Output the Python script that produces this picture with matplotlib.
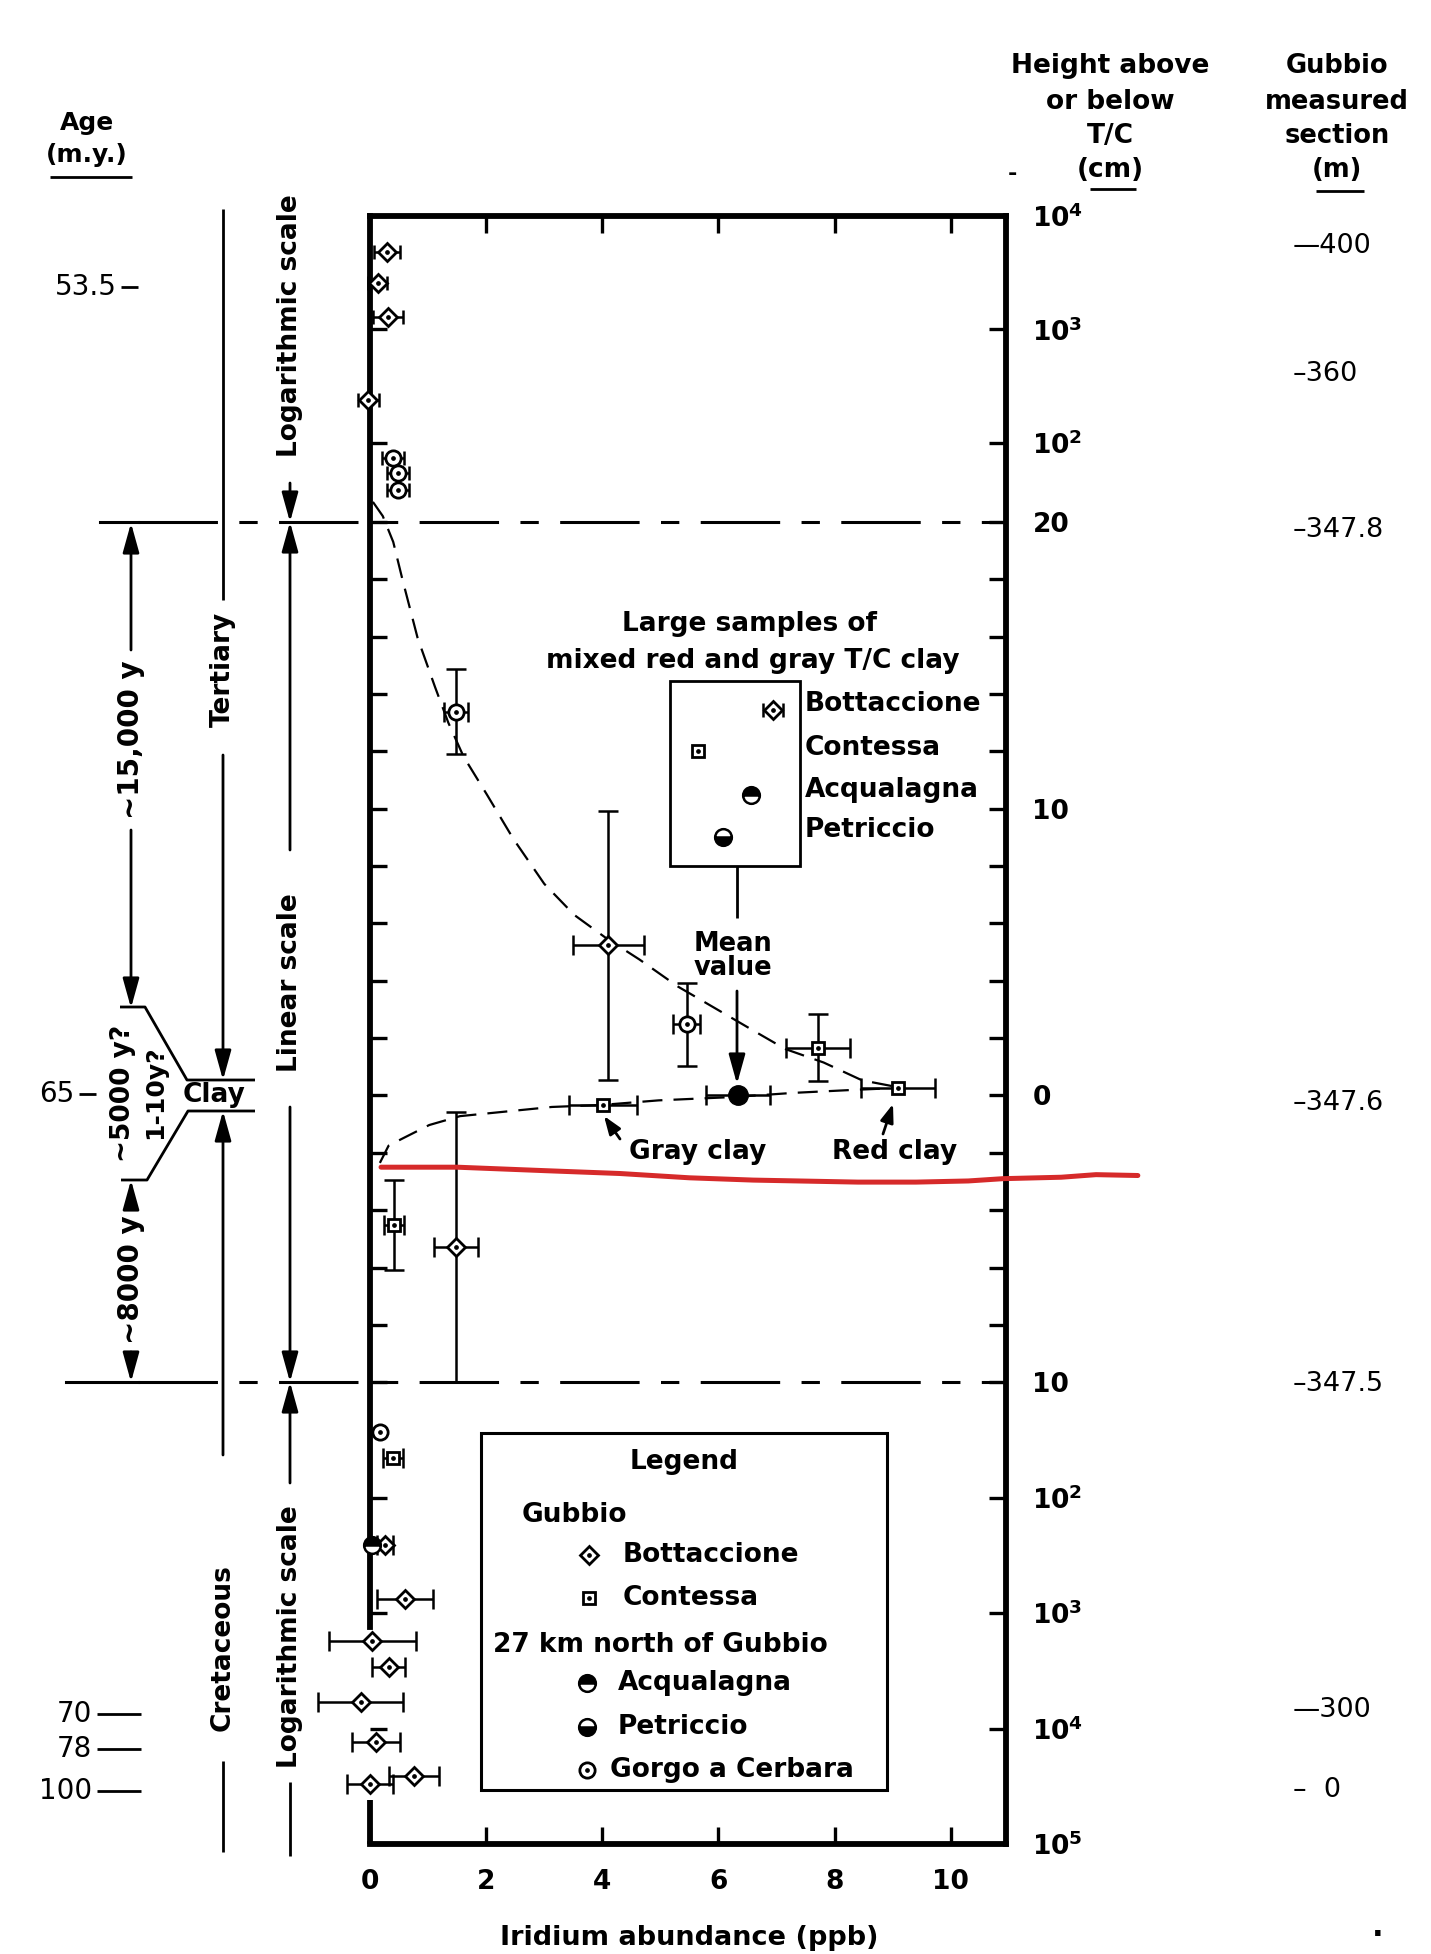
import numpy as np
import matplotlib
matplotlib.use("Agg")
import matplotlib.pyplot as plt
from matplotlib.patches import Rectangle
from matplotlib.ticker import FixedLocator, NullFormatter

plt.rcParams['font.family'] = ['DejaVu Sans']
plt.rcParams['mathtext.fontset'] = 'dejavusans'

# heights are cm above (+) or below (-) the T/C boundary, iridium in ppb
# Gubbio, Bottaccione (diamonds)
bott_ir = [0.29, 0.13, 0.31, -0.03, 4.10, 1.48, 0.26, 0.60, 0.04, 0.32, -0.16, 0.10, 0.75, 0.00]
bott_h = [4780, 2580, 1290, 240, 5.23, -5.30, -255, -757, -1740, -2950, -5860, -13200, -25600, -30400]
bott_xerr = [0.22, 0.17, 0.25, 0.18, 0.61, 0.38, 0.14, 0.48, 0.75, 0.28, 0.73, 0.41, 0.43, 0.40]
bott_yerr = [0, 0, 0, 0, 4.68, 4.73, 0, 0, 0, 0, 0, 0, 0, 0]

# Gubbio, Contessa (squares)
cont_ir = [7.71, 9.09, 4.01, 0.41, 0.39]
cont_h = [1.67, 0.26, -0.33, -4.52, -45]
cont_xerr = [0.55, 0.64, 0.59, 0.17, 0.17]
cont_yerr = [1.17, 0, 0, 1.56, 0]

# Gorgo a Cerbara (circles)
gorgo_ir = [0.40, 0.49, 0.49, 1.48, 5.45, 0.18]
gorgo_h = [73, 54, 38, 13.38, 2.48, -27]
gorgo_xerr = [0.19, 0.19, 0.19, 0.20, 0.24, 0]
gorgo_yerr = [0, 0, 0, 1.48, 1.45, 0]

# Acqualagna
acq_ir = [0.03]
acq_h = [-255]

# mean value of the large mixed clay samples
mean_ir = [6.34]
mean_h = [0.0]
mean_xerr = [0.55]

# dashed trend curves
upper_ir = [0.05, 0.22, 0.40, 0.56, 0.82, 1.12, 1.35, 1.61, 2.01, 2.47, 3.00, 3.52, 4.05,
            4.64, 5.30, 5.96, 6.62, 7.15, 7.81, 8.47, 9.06]
upper_h = [30, 22.5, 19.3, 17.98, 15.95, 14.24, 12.99, 11.82, 10.50, 8.94, 7.38, 6.29, 5.51,
           4.74, 3.80, 3.02, 2.24, 1.62, 1.15, 0.53, 0.30]
lower_ir = [0.17, 0.32, 0.56, 1.02, 1.55, 2.34, 3.13, 3.99, 4.97, 6.29, 7.28, 8.27, 9.06]
lower_h = [-2.35, -1.75, -1.50, -1.03, -0.72, -0.56, -0.40, -0.33, -0.17, -0.05, 0.09, 0.19, 0.26]

# red hand-drawn line
red_ir = [0.19, 1.5, 3.0, 4.3, 5.5, 6.6, 8.4, 9.4, 10.3, 10.9, 11.9, 12.5, 13.22]
red_h = [-2.50, -2.50, -2.62, -2.72, -2.87, -2.95, -3.02, -3.02, -2.98, -2.90, -2.85, -2.76, -2.79]

ytick_vals = [1e4, 1e3, 1e2, 20, 10, 0, -10, -1e2, -1e3, -1e4, -1e5]
ytick_labels = [r'$\mathbf{10^4}$', r'$\mathbf{10^3}$', r'$\mathbf{10^2}$', '20', '10', '0', '10',
                r'$\mathbf{10^2}$', r'$\mathbf{10^3}$', r'$\mathbf{10^4}$', r'$\mathbf{10^5}$']
ytick_minor = [18, 16, 14, 12, 8, 6, 4, 2, -2, -4, -6, -8]
xtick_vals = [0, 2, 4, 6, 8, 10]

# composite scale: log above +20 cm, linear -10..20 cm, log below -10 cm
T_LIN, B_LIN = 20.0, -10.0
C_TOP = 113.4 / 28.7
C_BOT = 115.5 / 28.7


def fwd(h):
    h = np.asarray(h, dtype=float)
    with np.errstate(all='ignore'):
        up = T_LIN + C_TOP * np.log10(np.maximum(h, T_LIN) / T_LIN)
        lo = B_LIN - C_BOT * np.log10(np.maximum(-h, -B_LIN) / -B_LIN)
    return np.where(h > T_LIN, up, np.where(h < B_LIN, lo, h))


def inv(u):
    u = np.asarray(u, dtype=float)
    with np.errstate(all='ignore'):
        up = T_LIN * 10 ** ((u - T_LIN) / C_TOP)
        lo = B_LIN * 10 ** ((B_LIN - u) / C_BOT)
    return np.where(u > T_LIN, up, np.where(u < B_LIN, lo, u))


W, H = 1431, 1954
fig = plt.figure(figsize=(W / 100, H / 100), dpi=100)
ax = fig.add_axes([370 / W, 1 - 1844 / H, 636 / W, 1628 / H])
ax.set_xlim(0, 10.95)
ax.set_yscale('function', functions=(fwd, inv))
ax.set_ylim(-1e5, 1e4)

for s in ax.spines.values():
    s.set_linewidth(4.2)
ax.spines['left'].set_bounds(-1330, 1e4)
ax.plot([0, 0], [-41400, -1e5], color='k', lw=4.2, solid_capstyle='butt', clip_on=False)

ax.set_xticks(xtick_vals)
ax.set_xticklabels([str(v) for v in xtick_vals], fontsize=19, fontweight='bold')
ax.tick_params(axis='x', direction='in', top=True, bottom=True, length=12, width=2.4, pad=18)
ax.set_yticks(ytick_vals)
ax.set_yticklabels(ytick_labels, fontsize=19, fontweight='bold')
ax.yaxis.set_minor_locator(FixedLocator(ytick_minor))
ax.yaxis.set_minor_formatter(NullFormatter())
ax.tick_params(axis='y', which='both', direction='in', left=True, right=True,
               labelleft=False, labelright=True, length=12, width=2.4, pad=19)

# boundary lines at +20 cm and -10 cm
ax.plot([-4.65, -4.0], [20, 20], color='k', lw=2.2, clip_on=False)
ax.plot([-4.0, 10.95], [20, 20], color='k', lw=2.2, ls=(0, (26, 7, 6, 7)), clip_on=False)
ax.plot([-5.23, -4.0], [-10, -10], color='k', lw=2.2, clip_on=False)
ax.plot([-4.0, 10.95], [-10, -10], color='k', lw=2.2, ls=(0, (26, 7, 6, 7)), clip_on=False)

# dashed trend curves
ax.plot(upper_ir, upper_h, color='k', lw=1.6, ls=(0, (9, 5)), clip_on=False, zorder=2)
ax.plot(lower_ir, lower_h, color='k', lw=1.6, ls=(0, (9, 5)), clip_on=False, zorder=2)


def draw_series(ir, h, xerr, yerr, marker, ms):
    for x, y, xe, ye in zip(ir, h, xerr, yerr):
        cap = 5 if y > 20 else 7
        eb = ax.errorbar(x, y, xerr=xe if xe else None, yerr=ye if ye else None, fmt='none',
                         ecolor='k', elinewidth=1.8, capsize=cap, capthick=1.8, zorder=3)
        for art in eb.get_children():
            art.set_clip_on(False)
    ax.plot(ir, h, ls='none', marker=marker, ms=ms, mfc='white', mec='k', mew=2.0,
            clip_on=False, zorder=4)
    ax.plot(ir, h, ls='none', marker='o', ms=2.4, color='k', clip_on=False, zorder=5)


draw_series(bott_ir, bott_h, bott_xerr, bott_yerr, 'D', 9.5)
draw_series(cont_ir, cont_h, cont_xerr, cont_yerr, 's', 9)
draw_series(gorgo_ir, gorgo_h, gorgo_xerr, gorgo_yerr, 'o', 11)
ax.plot(acq_ir, acq_h, ls='none', marker='o', ms=12, fillstyle='top', mfc='k',
        markerfacecoloralt='white', mec='k', mew=1.8, clip_on=False, zorder=4)
eb = ax.errorbar(mean_ir, mean_h, xerr=mean_xerr, fmt='none', ecolor='k', elinewidth=1.8,
                 capsize=7, capthick=1.8, zorder=3)
ax.plot(mean_ir, mean_h, ls='none', marker='o', ms=14, color='k', zorder=4)

ax.plot(red_ir, red_h, color='#d62a2a', lw=3.6, solid_capstyle='round', clip_on=False, zorder=6)

# ---- annotation overlay in pixel coordinates ----
ov = fig.add_axes([0, 0, 1, 1], zorder=5)
ov.set_xlim(0, W)
ov.set_ylim(H, 0)
ov.axis('off')
ov.patch.set_alpha(0)


def line(xs, ys, lw=2.0):
    ov.plot(xs, ys, color='k', lw=lw, solid_capstyle='butt')


def arrow(tail, tip, hl=0.9, hw=0.25):
    ov.annotate('', xy=tip, xytext=tail,
                arrowprops=dict(arrowstyle=f'-|>,head_length={hl},head_width={hw}', color='k',
                                lw=2, shrinkA=0, shrinkB=0, mutation_scale=20))


def txt(x, y, s, size=19, ha='center', rot=0, weight='bold'):
    ov.text(x, y, s, fontsize=size, ha=ha, va='center', rotation=rot, fontweight=weight,
            rotation_mode='anchor')


# age column
txt(87, 123, 'Age', 18)
txt(87, 155, '(m.y.)', 18)
line([50, 132], [177, 177])
txt(117, 287, '53.5', 20, ha='right', weight='normal')
line([121, 138], [287, 287])
txt(74, 1094, '65', 20, ha='right', weight='normal')
line([79, 96], [1094, 1094])
for lab, yy in [('70', 1714), ('78', 1749), ('100', 1791)]:
    txt(92, yy, lab, 20, ha='right', weight='normal')
    line([97, 141], [yy, yy])

# Tertiary / Clay / Cretaceous
line([223, 223], [209, 600])
txt(223, 669, 'Tertiary', 19, rot=90)
arrow((223, 755), (223, 1080))
txt(214, 1095, 'Clay', 19)
arrow((223, 1455), (223, 1111))
txt(223, 1648, 'Cretaceous', 19, rot=90)
line([223, 223], [1761, 1852])

# scale column
txt(290, 326, 'Logarithmic scale', 19, rot=90)
arrow((290, 483), (290, 522))
arrow((290, 850), (290, 522))
txt(290, 983, 'Linear scale', 19, rot=90)
arrow((290, 1107), (290, 1382))
arrow((290, 1483), (290, 1382))
txt(290, 1637, 'Logarithmic scale', 19, rot=90)
line([290, 290], [1782, 1856])

# duration column
arrow((131, 650), (131, 523))
txt(131, 740, '~15,000 y', 20, rot=90)
arrow((131, 830), (131, 1008))
line([120, 145, 187, 255], [1007, 1007, 1080, 1080])
line([255, 188, 147, 121], [1111, 1111, 1180, 1180])
txt(123, 1093, '~5000 y?', 19, rot=90)
txt(155, 1092, '1-10y?', 18, rot=90)
arrow((131, 1205), (131, 1180))
txt(131, 1280, '~8000 y', 20, rot=90)
arrow((131, 1352), (131, 1382))

# right headers
for s, yy in [('Height above', 66), ('or below', 102), ('T/C', 136), ('(cm)', 170)]:
    txt(1110, yy, s, 19)
line([1090, 1136], [189, 189])
txt(1012, 174, '-', 16)
for s, yy in [('Gubbio', 66), ('measured', 102), ('section', 136), ('(m)', 170)]:
    txt(1337, yy, s, 18.5)
line([1316, 1364], [191, 191])
for s, yy in [('\u2014400', 246), ('\u2013360', 374), ('\u2013347.8', 530), ('\u2013347.6', 1103),
              ('\u2013347.5', 1384), ('\u2014300', 1710), ('\u2013  0', 1790)]:
    txt(1293, yy, s, 19.5, ha='left', weight='normal')
txt(1378, 1928, '.', 22)

# large mixed samples box
txt(749, 624, 'Large samples of', 19)
txt(753, 661, 'mixed red and gray T/C clay', 19)
ov.add_patch(Rectangle((670, 681), 130, 185, fill=False, lw=2, ec='k'))
ov.errorbar([773], [710], xerr=[10], fmt='none', ecolor='k', elinewidth=1.8, capsize=5, capthick=1.8)
ov.plot([773], [710], marker='D', ms=9.5, mfc='white', mec='k', mew=2.0)
ov.plot([698], [751], marker='s', ms=9, mfc='white', mec='k', mew=2.0)
ov.plot([751], [795], marker='o', ms=12, fillstyle='top', mfc='k', markerfacecoloralt='white', mec='k', mew=1.8)
ov.plot([723], [837], marker='o', ms=12, fillstyle='bottom', mfc='k', markerfacecoloralt='white', mec='k', mew=1.8)
ov.plot([773, 698], [710, 751], ls='none', marker='o', ms=2.4, color='k')
for s, yy in [('Bottaccione', 704), ('Contessa', 748), ('Acqualagna', 790), ('Petriccio', 830)]:
    txt(805, yy, s, 19, ha='left')
line([737, 737], [866, 918])
txt(733, 944, 'Mean', 18.5)
txt(733, 968, 'value', 18.5)
arrow((737, 991), (737, 1084))
txt(698, 1152, 'Gray clay', 19)
arrow((620, 1139), (604, 1116), hl=0.55, hw=0.2)
txt(895, 1152, 'Red clay', 19)
arrow((883, 1134), (893, 1104), hl=0.55, hw=0.2)

# legend box
ov.add_patch(Rectangle((481, 1433), 406, 357, fill=False, lw=2.2, ec='k'))
txt(684, 1462, 'Legend', 19)
txt(522, 1515, 'Gubbio', 19, ha='left')
ov.plot([589], [1555], marker='D', ms=9.5, mfc='white', mec='k', mew=2.0)
ov.plot([589], [1598], marker='s', ms=9, mfc='white', mec='k', mew=2.0)
ov.plot([589, 589], [1555, 1598], ls='none', marker='o', ms=2.4, color='k')
txt(623, 1555, 'Bottaccione', 19, ha='left')
txt(623, 1598, 'Contessa', 19, ha='left')
txt(493, 1645, '27 km north of Gubbio', 19, ha='left')
ov.plot([587], [1683], marker='o', ms=12, fillstyle='top', mfc='k', markerfacecoloralt='white', mec='k', mew=1.8)
ov.plot([587], [1727], marker='o', ms=12, fillstyle='bottom', mfc='k', markerfacecoloralt='white', mec='k', mew=1.8)
ov.plot([587], [1770], marker='o', ms=11, mfc='white', mec='k', mew=2.0)
ov.plot([587], [1770], marker='o', ms=2.4, color='k')
txt(618, 1683, 'Acqualagna', 19, ha='left')
txt(618, 1727, 'Petriccio', 19, ha='left')
txt(610, 1770, 'Gorgo a Cerbara', 19, ha='left')

txt(689, 1938, 'Iridium abundance (ppb)', 19.5)

fig.savefig('out.png', dpi=100)
